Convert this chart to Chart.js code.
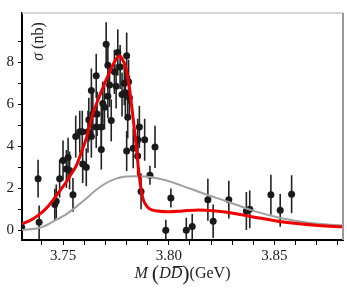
<!DOCTYPE html>
<html>
<head>
<meta charset="utf-8">
<script src="https://cdn.jsdelivr.net/npm/chart.js@4.4.0/dist/chart.umd.min.js"></script>
<style>
    html, body { margin: 0; padding: 0; background: #fff; }
    #wrap { width: 347px; height: 289px; }
</style>
</head>
<body>
<div id="wrap"><canvas id="grafico" width="347" height="289"></canvas></div>
<script>
/* ========== DADOS ========== */
const massX = [3.7304, 3.7382, 3.7387, 3.7461, 3.7468, 3.7484, 3.7500, 3.7516, 3.7524, 3.7531,
    3.7547, 3.7560, 3.7579, 3.7591, 3.7593, 3.7610, 3.7618, 3.7622, 3.7634, 3.7634,
    3.7641, 3.7657, 3.7657, 3.7661, 3.7681, 3.7681, 3.7688, 3.7696, 3.7704, 3.7712,
    3.7712, 3.7720, 3.7728, 3.7743, 3.7751, 3.7759, 3.7770, 3.7779, 3.7790, 3.7795,
    3.7801, 3.7801, 3.7806, 3.7810, 3.7814, 3.7832, 3.7853, 3.7853, 3.7861, 3.7869,
    3.7886, 3.7911, 3.7935, 3.7986, 3.8010, 3.8083, 3.8111, 3.8185, 3.8210, 3.8284,
    3.8367, 3.8383, 3.8483, 3.8527, 3.8581];
const sigma = [0.15, 2.46, 0.38, 1.23, 1.38, 2.46, 3.32, 2.92, 3.46, 2.85,
    1.69, 4.46, 4.69, 4.69, 3.15, 3.00, 4.69, 5.26, 4.46, 6.65,
    5.54, 4.92, 7.35, 5.54, 3.84, 4.92, 6.03, 5.85, 8.85, 7.85,
    6.38, 6.92, 5.23, 7.54, 6.85, 8.46, 7.77, 6.46, 7.00, 6.54,
    8.31, 3.77, 5.38, 7.07, 6.31, 3.90, 4.31, 3.54, 4.92, 1.85,
    4.31, 2.62, 3.97, 0.00, 1.54, 0.00, 0.18, 1.46, 0.43, 1.46,
    0.92, 1.00, 1.69, 0.95, 1.72];
const sigmaErr = [0.70, 0.90, 0.80, 0.75, 0.80, 0.90, 0.95, 0.90, 0.95, 0.90,
    0.80, 1.00, 1.00, 1.00, 0.90, 0.90, 1.00, 1.05, 1.00, 1.05,
    1.05, 1.00, 1.05, 1.05, 0.95, 1.00, 1.05, 1.05, 1.05, 1.05,
    1.05, 1.05, 1.00, 1.05, 1.05, 1.10, 1.05, 1.05, 1.05, 1.05,
    1.10, 0.95, 1.00, 1.05, 1.05, 0.95, 1.00, 0.95, 1.00, 0.85,
    1.00, 0.45, 1.00, 0.50, 0.45, 0.60, 0.60, 1.00, 0.80, 0.90,
    0.90, 0.90, 0.95, 0.78, 0.90];

// ajuste total (vermelho)
const fitX = [3.7306, 3.7350, 3.7390, 3.7430, 3.7461, 3.7490, 3.7516, 3.7540, 3.7563, 3.7586,
    3.7610, 3.7641, 3.7665, 3.7688, 3.7708, 3.7728, 3.7748, 3.7767, 3.7783, 3.7798,
    3.7814, 3.7829, 3.7842, 3.7855, 3.7869, 3.7880, 3.7894, 3.7913, 3.7946, 3.8002,
    3.8064, 3.8143, 3.8221, 3.8284, 3.8393, 3.8550, 3.8707, 3.8824];
const fitTotal = [0.31, 0.50, 0.77, 1.15, 1.54, 1.95, 2.31, 2.70, 3.08, 3.69,
    4.38, 5.54, 6.20, 6.77, 7.25, 7.69, 8.10, 8.31, 8.10, 7.69,
    6.77, 5.54, 4.40, 3.10, 1.95, 1.45, 1.18, 1.00, 0.92, 0.88,
    0.92, 0.97, 0.92, 0.85, 0.65, 0.38, 0.23, 0.17];

// fundo (cinza)
const bgX = [3.7306, 3.7390, 3.7461, 3.7516, 3.7594, 3.7673, 3.7751, 3.7829, 3.7900, 3.7986,
    3.8096, 3.8190, 3.8284, 3.8393, 3.8550, 3.8707, 3.8824];
const fitBg = [0.02, 0.12, 0.46, 0.77, 1.38, 2.05, 2.46, 2.57, 2.55, 2.38,
    2.00, 1.66, 1.35, 0.95, 0.54, 0.31, 0.23];

// eixos
const xTicks = [3.74, 3.75, 3.76, 3.77, 3.78, 3.79, 3.80, 3.81, 3.82, 3.83, 3.84, 3.85, 3.86, 3.87, 3.88];
const xLabels = ['3.75', '3.80', '3.85'];
const yTicks = [0, 1, 2, 3, 4, 5, 6, 7, 8, 9];
const yLabels = [0, 2, 4, 6, 8];

const SERIF = "'Liberation Serif', 'DejaVu Serif', serif";

/* ========== PLUGINS ========== */
const errorBars = {
    id: 'errorBars',
    beforeDatasetsDraw(chart) {
        const { ctx, chartArea: a, scales: { x, y } } = chart;
        ctx.save();
        ctx.beginPath();
        ctx.rect(a.left, a.top, a.right - a.left, a.bottom - a.top);
        ctx.clip();
        ctx.strokeStyle = '#222';
        ctx.lineWidth = 1.6;
        massX.forEach((m, i) => {
            const px = x.getPixelForValue(m);
            ctx.beginPath();
            ctx.moveTo(px, y.getPixelForValue(sigma[i] - sigmaErr[i]));
            ctx.lineTo(px, y.getPixelForValue(sigma[i] + sigmaErr[i]));
            ctx.stroke();
        });
        ctx.restore();
    }
};

const frameAndTitles = {
    id: 'frameAndTitles',
    afterDraw(chart) {
        const { ctx, chartArea: a } = chart;
        ctx.save();
        // moldura superior / direita
        ctx.strokeStyle = '#c8c8c8';
        ctx.lineWidth = 1.5;
        ctx.beginPath();
        ctx.moveTo(a.left, a.top);
        ctx.lineTo(a.right, a.top);
        ctx.stroke();
        ctx.strokeStyle = '#999';
        ctx.lineWidth = 2;
        ctx.beginPath();
        ctx.moveTo(a.right, a.top);
        ctx.lineTo(a.right, a.bottom);
        ctx.stroke();

        ctx.fillStyle = '#222';
        ctx.strokeStyle = '#222';
        ctx.textBaseline = 'middle';

        // titulo eixo x: M (D D-barra)(GeV)
        const ty = 274;
        const segs = [
            { t: 'M', f: 'italic 16px ' + SERIF },
            { t: ' ', f: '16px ' + SERIF },
            { t: '(', f: '22px ' + SERIF },
            { t: 'D', f: 'italic 16px ' + SERIF },
            { t: 'D', f: 'italic 16px ' + SERIF, bar: true },
            { t: ')', f: '22px ' + SERIF },
            { t: '(GeV)', f: '16px ' + SERIF }
        ];
        let w = 0;
        segs.forEach(s => { ctx.font = s.f; s.w = ctx.measureText(s.t).width; w += s.w; });
        let cx = (a.left + a.right) / 2 - w / 2;
        segs.forEach(s => {
            ctx.font = s.f;
            ctx.fillText(s.t, cx, ty);
            if (s.bar) {
                ctx.lineWidth = 1;
                ctx.beginPath();
                ctx.moveTo(cx + 2.5, ty - 7.5);
                ctx.lineTo(cx + s.w + 0.5, ty - 7.5);
                ctx.stroke();
            }
            cx += s.w;
        });

        // titulo eixo y (dentro da area)
        ctx.translate(38.5, 41.5);
        ctx.rotate(-Math.PI / 2);
        const ys = [
            { t: '\u03c3', f: 'italic 16px ' + SERIF },
            { t: ' (nb)', f: '16px ' + SERIF }
        ];
        w = 0;
        ys.forEach(s => { ctx.font = s.f; s.w = ctx.measureText(s.t).width; w += s.w; });
        cx = -w / 2;
        ys.forEach(s => {
            ctx.font = s.f;
            ctx.fillText(s.t, cx, 0);
            cx += s.w;
        });
        ctx.restore();
    }
};

/* ========== GRAFICO ========== */
const ctx = document.getElementById('grafico').getContext('2d');
new Chart(ctx, {
    type: 'scatter',
    data: {
        datasets: [
            {
                type: 'line',
                label: 'total',
                data: fitX.map((v, i) => ({ x: v, y: fitTotal[i] })),
                borderColor: '#ee0000',
                borderWidth: 3,
                pointRadius: 0,
                cubicInterpolationMode: 'monotone',
                fill: false,
                order: 0
            },
            {
                type: 'line',
                label: 'fundo',
                data: bgX.map((v, i) => ({ x: v, y: fitBg[i] })),
                borderColor: '#a0a0a0',
                borderWidth: 2,
                pointRadius: 0,
                cubicInterpolationMode: 'monotone',
                fill: false,
                order: 1
            },
            {
                label: 'dados',
                data: massX.map((v, i) => ({ x: v, y: sigma[i] })),
                backgroundColor: '#1a1a1a',
                borderColor: '#1a1a1a',
                pointRadius: 3.5,
                borderWidth: 0,
                order: 2
            }
        ]
    },
    options: {
        responsive: false,
        animation: false,
        layout: { padding: { top: 6, right: 2, left: 0, bottom: 0 } },
        plugins: {
            legend: { display: false },
            tooltip: { enabled: false }
        },
        scales: {
            x: {
                type: 'linear',
                min: 3.7306,
                max: 3.8824,
                afterFit: s => { s.height = 49; },
                afterBuildTicks: s => { s.ticks = xTicks.map(v => ({ value: v })); },
                border: { color: '#000', width: 2 },
                grid: { drawOnChartArea: false, drawTicks: true, tickLength: 5, color: '#000', lineWidth: 1 },
                ticks: {
                    autoSkip: false,
                    maxRotation: 0,
                    padding: 2,
                    color: '#1a1a1a',
                    font: { family: SERIF, size: 15 },
                    callback: v => xLabels.find(l => Math.abs(parseFloat(l) - v) < 1e-6) || ''
                }
            },
            y: {
                min: -0.46,
                max: 10.34,
                afterFit: s => { s.width = 22; },
                afterBuildTicks: s => { s.ticks = yTicks.map(v => ({ value: v })); },
                border: { color: '#000', width: 2 },
                grid: { drawOnChartArea: false, drawTicks: true, tickLength: 4, color: '#000', lineWidth: 1 },
                ticks: {
                    autoSkip: false,
                    padding: 4,
                    color: '#1a1a1a',
                    font: { family: SERIF, size: 15 },
                    callback: v => yLabels.includes(v) ? String(v) : ''
                }
            }
        }
    },
    plugins: [errorBars, frameAndTitles]
});
</script>
</body>
</html>
